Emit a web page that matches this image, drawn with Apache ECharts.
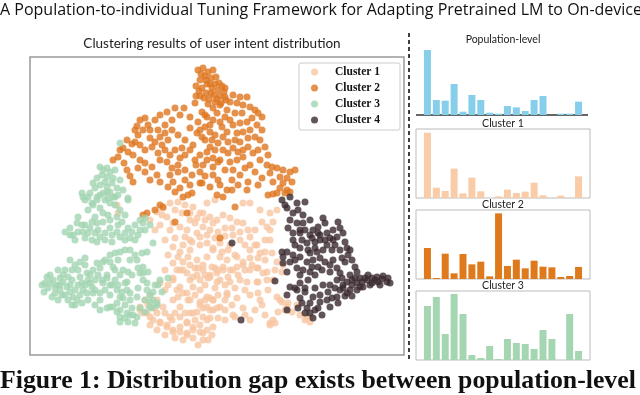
<!DOCTYPE html>
<html>
<head>
<meta charset="utf-8">
<script src="https://cdn.jsdelivr.net/npm/echarts@6/dist/echarts.min.js"></script>
<style>
  html, body { margin: 0; padding: 0; background: #fff; }
  #chart { width: 640px; height: 395px; }
</style>
</head>
<body>
<div id="chart"></div>
<script>
// t-SNE embedding of user intents (figure units, y grows downward)
const cluster1Points = [
  [117,205],[118,213],[150,220],[157,212],[163,208],[170,203],[178,202],[185,205],[193,207],[200,213],
  [207,203],[215,200],[167,217],[173,223],[180,227],[187,230],[195,223],[203,227],[213,223],[185,237],
  [192,242],[200,237],[207,243],[213,248],[173,247],[180,252],[188,257],[197,260],[203,265],[212,267],
  [217,273],[173,263],[180,270],[187,273],[193,277],[200,280],[208,278],[173,280],[177,290],[183,293],
  [188,300],[173,300],[180,307],[200,290],[207,297],[213,300],[200,305],[210,310],[193,313],[140,307],
  [143,313],[150,317],[157,313],[160,322],[167,325],[173,330],[180,327],[187,323],[187,333],[193,330],
  [203,333],[207,320],[177,270],[173,278],[180,287],[187,293],[190,280],[197,275],[203,270],[210,275],
  [217,270],[223,267],[230,270],[237,267],[243,265],[250,270],[257,268],[263,273],[247,282],[257,282],
  [267,280],[227,293],[210,298],[200,302],[203,308],[197,312],[190,313],[180,317],[187,322],[193,327],
  [200,332],[207,330],[213,327],[203,340],[208,340],[220,307],[225,310],[213,310],[233,315],[258,293],
  [270,323],[273,320],[277,297],[282,302],[287,307],[140,310],[147,313],[153,320],[160,323],[167,327],
  [173,332],[180,332],[187,335],[170,317],[163,307],[157,300],[305,320],[310,317],[203,213],[210,217],
  [217,220],[223,215],[230,218],[237,222],[243,223],[250,203],[243,203],[260,210],[270,213],[277,210],
  [273,222],[267,227],[248,230],[257,245],[260,253],[272,253],[277,262],[240,240],[233,235],[220,243],
  [213,250],[207,257],[220,257],[227,260],[237,257],[243,262],[252,265],[258,268],[267,272],[273,280],
  [233,270],[223,270],[215,268],[210,277],[220,280],[230,282],[240,280],[258,282],[227,295],[237,298],
  [213,300],[207,307],[217,308],[203,317],[280,300],[288,303],[297,305],[307,317],[310,322],[270,325],
  [275,323],[235,317],[190,220],[197,233],[225,228],[230,245],[250,250],[245,245],[265,240],[190,250],
  [183,262],[195,268],[205,285],[215,288],[225,285],[193,287],[165,290],[160,283],[150,295],[145,300],
  [175,210],[182,213],[190,213],[197,218],[205,220],[210,230],[218,232],[225,236],[232,228],[240,232],
  [250,237],[255,230],[262,222],[270,230],[258,258],[265,260],[250,258],[245,270],[238,275],[228,277],
  [217,282],[205,275],[198,268],[190,265],[183,270],[178,257],[168,255],[165,270],[168,285],[178,297],
  [190,300],[195,295],[205,300],[218,295],[225,300],[232,305],[243,308],[250,295],[260,300],[268,290],
  [245,290],[235,288],[185,313],[175,313],[165,313],[155,308],[148,305],[150,325],[157,330],[165,335],
  [175,338],[183,340],[193,338],[200,325],[210,318],[218,318],[225,320],[195,320],[172,320],[212,335],
  [198,345],[235,255],[228,250],[200,245],[207,235],[215,238],[222,252],[190,240],[183,245],[175,238],
  [170,230],[160,225],[165,240],[155,230],[162,215],[285,310],[292,312],[300,315],[278,312],[265,315],
  [262,305],[255,310],[250,320],[245,315],[282,272],[275,270],[283,265],[265,252],[255,245],[270,240]
];
const cluster2Points = [
  [198,70],[203,68],[208,72],[213,70],[205,76],[211,78],[200,80],[216,77],[219,83],[207,84],
  [196,86],[202,88],[212,88],[218,90],[222,86],[206,93],[214,95],[200,96],[220,96],[209,99],
  [215,102],[224,92],[226,100],[225,97],[233,95],[240,97],[247,97],[230,102],[237,103],[243,105],
  [220,105],[227,110],[250,107],[255,110],[258,113],[262,117],[202,112],[207,117],[213,120],[220,122],
  [225,117],[230,120],[233,125],[240,123],[247,122],[250,130],[243,132],[237,133],[227,132],[222,127],
  [202,137],[205,140],[210,147],[215,150],[207,152],[218,143],[223,150],[228,153],[233,148],[238,152],
  [243,150],[248,147],[253,153],[258,150],[243,157],[237,160],[230,162],[220,160],[213,158],[207,160],
  [250,165],[233,170],[240,175],[248,182],[202,183],[210,187],[220,185],[227,190],[223,197],[217,195],
  [267,165],[272,167],[277,168],[283,170],[290,172],[295,170],[270,173],[280,177],[287,178],[273,182],
  [283,183],[292,182],[280,188],[287,190],[277,193],[268,195],[273,194],[285,193],[290,192],[232,190],
  [235,207],[220,238],[140,120],[145,118],[137,126],[148,125],[143,130],[138,135],[165,125],[158,130],
  [172,120],[180,115],[184,108],[195,103],[127,140],[132,144],[123,148],[128,152],[135,142],[150,138],
  [155,142],[152,147],[162,145],[168,140],[170,155],[175,150],[180,158],[185,155],[190,150],[195,160],
  [200,155],[193,145],[185,140],[178,135],[172,130],[190,128],[198,122],[205,115],[210,125],[190,117],
  [197,133],[113,160],[118,157],[124,163],[127,170],[130,176],[133,182],[140,160],[145,163],[160,160],
  [167,162],[172,168],[178,165],[185,170],[192,175],[200,172],[196,165],[168,187],[173,182],[200,183],
  [203,165],[213,167],[218,162],[143,215],[147,213],[155,210],[160,205],[163,207],[175,192],[183,197],
  [188,195],[192,193],[175,222],[187,213],[201,74],[206,80],[210,84],[215,84],[199,91],[204,98],
  [211,93],[217,99],[221,103],[208,104],[213,108],[196,96],[225,88],[235,113],[242,113],[252,118],
  [257,125],[262,130],[255,137],[248,138],[235,140],[228,142],[215,135],[210,132],[200,130],[205,127],
  [217,113],[212,140],[223,137],[240,142],[260,140],[265,147],[268,155],[260,160],[255,172],[245,168],
  [225,170],[213,175],[205,176],[218,180],[232,180],[238,185],[247,190],[258,185],[262,178],[150,130],
  [155,120],[160,115],[167,112],[175,108],[160,137],[165,150],[158,153],[145,150],[140,145],[133,155],
  [138,168],[145,172],[152,167],[157,175],[150,180],[160,182],[178,172],[185,180],[190,185],[180,188],
  [170,175],[120,150],[135,130],[165,133],[182,148]
];
const cluster3Points = [
  [120,143],[100,167],[103,170],[107,168],[110,172],[102,175],[107,177],[113,178],[97,178],[115,170],
  [93,183],[100,185],[107,187],[112,183],[117,188],[110,192],[103,193],[115,197],[90,193],[83,197],
  [97,197],[128,198],[108,198],[82,193],[88,197],[97,200],[100,195],[107,192],[113,197],[118,195],
  [110,203],[100,208],[103,213],[95,217],[92,222],[97,223],[103,222],[110,220],[117,217],[128,200],
  [78,217],[77,223],[65,232],[70,228],[73,235],[78,232],[83,232],[88,233],[95,233],[100,237],
  [97,242],[105,233],[112,235],[117,232],[120,237],[125,233],[128,228],[135,225],[132,232],[140,230],
  [143,223],[145,218],[153,243],[47,277],[50,283],[48,288],[53,280],[57,285],[60,290],[55,293],
  [52,297],[63,282],[67,287],[70,292],[73,297],[68,277],[72,270],[75,265],[78,270],[80,277],
  [82,283],[83,290],[77,300],[85,265],[87,273],[88,280],[92,287],[95,290],[100,293],[93,293],
  [87,293],[97,263],[107,278],[103,283],[110,262],[115,253],[118,260],[120,252],[125,250],[130,250],
  [117,290],[120,297],[127,282],[127,290],[130,300],[100,310],[107,308],[113,307],[117,312],[120,317],
  [125,318],[130,315],[137,317],[137,260],[142,253],[147,252],[143,267],[148,272],[143,280],[138,288],
  [147,290],[137,297],[153,300],[150,307],[157,305],[168,278],[140,273],[123,270],[103,262],[107,275],
  [102,280],[113,267],[120,275],[125,283],[130,293],[123,298],[117,303],[110,307],[120,310],[127,313],
  [133,315],[143,273],[147,283],[153,292],[150,302],[157,303],[158,285],[140,308],[152,308],[60,278],
  [65,295],[58,270],[75,290],[90,275],[72,280],[88,210],[85,225],[93,205],[122,222],[135,240],
  [85,200],[92,203],[105,200],[115,205],[120,210],[125,215],[108,215],[98,230],[90,228],[82,225],
  [70,235],[75,240],[85,238],[92,240],[105,240],[112,242],[125,240],[130,238],[138,235],[145,230],
  [150,225],[140,220],[118,225],[110,228],[105,182],[95,188],[120,180],[123,190],[45,283],[50,275],
  [55,287],[62,295],[68,300],[75,305],[80,295],[85,285],[90,283],[95,280],[98,275],[93,270],
  [85,258],[80,262],[70,260],[65,270],[60,285],[105,290],[110,295],[112,285],[115,280],[118,285],
  [122,292],[125,305],[132,308],[128,322],[120,322],[135,323],[145,312],[145,300],[150,295],[155,285],
  [160,280],[162,292],[110,255],[105,260],[100,268],[130,260],[135,255],[138,268],[132,275],[128,272],
  [115,270],[110,285],[100,300],[95,305],[88,300],[82,303],[72,305],[58,300],[63,275],[70,285],
  [78,285],[42,285],[44,292]
];
const cluster4Points = [
  [282,200],[290,197],[305,202],[287,208],[293,213],[298,210],[290,220],[297,223],[303,223],[288,228],
  [323,218],[325,223],[313,230],[310,235],[318,233],[327,233],[333,230],[340,228],[343,233],[337,237],
  [320,240],[315,242],[307,243],[302,240],[327,245],[323,250],[317,252],[310,253],[332,250],[347,248],
  [348,255],[352,260],[355,267],[357,272],[282,252],[287,252],[293,255],[283,257],[300,257],[307,262],
  [313,260],[320,258],[312,267],[318,267],[310,272],[300,275],[297,268],[287,272],[303,270],[330,265],
  [333,260],[340,273],[337,280],[342,278],[343,285],[347,282],[352,285],[357,283],[362,282],[367,280],
  [372,278],[377,277],[382,279],[387,282],[390,283],[368,275],[375,280],[363,287],[357,290],[350,290],
  [347,293],[340,290],[337,297],[332,298],[327,300],[320,302],[313,297],[310,303],[307,308],[302,303],
  [300,298],[310,313],[313,318],[315,310],[297,290],[295,288],[290,287],[287,295],[343,288],[352,280],
  [232,243],[241,320],[275,281],[287,310],[338,222],[345,262],[360,278],[370,285],[380,285],[320,295],
  [305,292],[325,240],[300,233],[295,245],[305,230],[312,238],[320,235],[330,238],[335,245],[340,250],
  [342,258],[337,268],[330,272],[325,262],[322,270],[315,275],[308,280],[300,283],[305,288],[315,288],
  [323,285],[330,285],[335,288],[328,292],[318,308],[322,315],[305,313],[298,308],[350,275],[355,278],
  [365,278],[372,283],[378,282],[383,276],[388,278],[360,287],[345,296],[352,296],[338,303],[330,307],
  [295,260],[290,262],[283,263],[293,240],[300,248],[308,250],[315,248],[303,215],[310,220],[318,227],
  [333,240],[345,242],[350,250],[297,203],[285,205],[300,230],[293,233]
];

// intent distribution (bar heights, relative units) for 18 intent categories
const intents = ['1','2','3','4','5','6','7','8','9','10','11','12','13','14','15','16','17','18'];
const populationLevel = [195,45,43,93,10,60,45,7,4,27,23,12,45,57,0,4,4,40];
const cluster1Dist = [196,31,21,88,14,61,20,0,5,25,15,19,46,8,0,7,0,65];
const cluster2Dist = [93,3,76,17,75,44,52,8,197,39,58,32,55,37,35,6,9,36];
const cluster3Dist = [162,189,78,198,138,15,6,42,3,63,51,48,33,90,63,0,138,27];

const colors = ['#F8C5A1', '#DE761F', '#A2D5B2', '#3B2B30'];
const popColor = '#87CEEB';

const chart = echarts.init(document.getElementById('chart'));

const panels = [
  { name: 'Population-level', data: populationLevel, color: popColor, top: 47, height: 68, max: 204, titleY: 40 },
  { name: 'Cluster 1', data: cluster1Dist, color: '#F9CBA7', top: 129, height: 69, max: 207, titleY: 124 },
  { name: 'Cluster 2', data: cluster2Dist, color: '#DE7A1C', top: 210, height: 69, max: 207, titleY: 205 },
  { name: 'Cluster 3', data: cluster3Dist, color: '#A5D6B2', top: 291, height: 69, max: 207, titleY: 286 }
];

const grids = [{ left: 30, top: 57, width: 374, height: 298, show: true, borderColor: '#999', borderWidth: 1.5 }];
const xAxes = [{ type: 'value', gridIndex: 0, min: 30, max: 404, show: false }];
const yAxes = [{ type: 'value', gridIndex: 0, min: 57, max: 355, inverse: true, show: false }];
const series = [];

[cluster1Points, cluster2Points, cluster3Points, cluster4Points].forEach((pts, i) => {
  series.push({
    name: 'Cluster ' + (i + 1),
    type: 'scatter',
    xAxisIndex: 0,
    yAxisIndex: 0,
    data: pts,
    symbolSize: 7,
    itemStyle: { color: colors[i] },
    silent: true
  });
});

const graphics = [
  { type: 'text', x: 0, y: 10, style: { text: 'A Population-to-individual Tuning Framework for Adapting Pretrained LM to On-device', font: '16px "Open Sans"', fill: '#111', verticalAlign: 'middle' } },
  { type: 'text', x: 212, y: 44, style: { text: 'Clustering results of user intent distribution', font: '13.5px Lato', fill: '#222', align: 'center', verticalAlign: 'middle' } },
  { type: 'line', shape: { x1: 409, y1: 33, x2: 409, y2: 362 }, style: { stroke: '#000', lineWidth: 1.5, lineDash: [4, 3] } },
  { type: 'line', shape: { x1: 416, y1: 115, x2: 588, y2: 115 }, style: { stroke: '#333', lineWidth: 1.5 } },
  { type: 'text', x: 0, y: 381, style: { text: 'Figure 1: Distribution gap exists between population-level', font: 'bold 25.8px "Liberation Serif"', fill: '#111', verticalAlign: 'middle' } }
];

panels.forEach((p, k) => {
  const gi = k + 1;
  grids.push({ left: 423, top: p.top, width: 160, height: p.height });
  xAxes.push({ type: 'category', gridIndex: gi, data: intents, show: false });
  yAxes.push({ type: 'value', gridIndex: gi, min: 0, max: p.max, show: false });
  series.push({
    name: p.name,
    type: 'bar',
    xAxisIndex: gi,
    yAxisIndex: gi,
    data: p.data,
    barWidth: 7,
    itemStyle: { color: p.color },
    silent: true
  });
  graphics.push({ type: 'text', x: 503, y: p.titleY, style: { text: p.name, font: '10.5px Lato', fill: '#222', align: 'center', verticalAlign: 'middle' } });
  if (k > 0) {
    graphics.push({ type: 'rect', shape: { x: 416, y: p.top, width: 174, height: p.height }, style: { fill: 'none', stroke: '#bbb', lineWidth: 1 } });
  }
});

chart.setOption({
  animation: false,
  grid: grids,
  xAxis: xAxes,
  yAxis: yAxes,
  legend: {
    data: ['Cluster 1', 'Cluster 2', 'Cluster 3', 'Cluster 4'],
    orient: 'vertical',
    left: 299,
    top: 63,
    icon: 'circle',
    itemWidth: 7,
    itemHeight: 7,
    itemGap: 0,
    padding: [1, 20, 2, 12],
    backgroundColor: '#fff',
    borderColor: '#ccc',
    borderWidth: 1,
    borderRadius: 2,
    textStyle: { fontFamily: 'Liberation Serif', fontWeight: 'bold', fontSize: 11.5, color: '#111', lineHeight: 16, padding: [0, 0, 0, 12] }
  },
  series: series,
  graphic: graphics
});
</script>
</body>
</html>
